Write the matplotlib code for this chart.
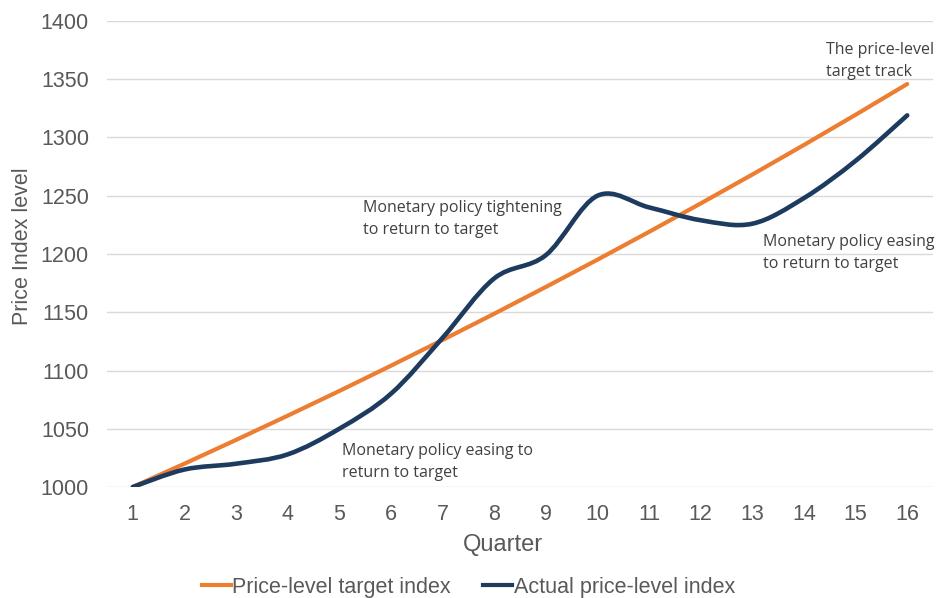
import numpy as np
import matplotlib.pyplot as plt
from matplotlib.path import Path
from matplotlib.patches import PathPatch
from matplotlib.lines import Line2D

# data
quarters = list(range(1, 17))
target_index = [1000, 1020, 1040.4, 1061.2, 1082.4, 1104.1, 1126.2, 1148.7,
                1171.7, 1195.1, 1219.0, 1243.4, 1268.2, 1293.6, 1319.5, 1345.9]
actual_index = [1000, 1015, 1020, 1028, 1050, 1080, 1128, 1179,
                1199, 1250, 1240, 1229, 1226, 1248, 1280, 1319]

orange = '#ED7D31'
navy = '#1d3b5e'
grey = '#595959'
note_col = '#404040'

plt.rcParams['font.family'] = ['Liberation Sans', 'DejaVu Sans']


def smooth_path(xs, ys):
    # Excel-like smoothed line: cubic bezier through every point
    pts = np.column_stack([xs, ys]).astype(float)
    n = len(pts)
    verts = [pts[0]]
    codes = [Path.MOVETO]
    for i in range(n - 1):
        p0 = pts[max(i - 1, 0)]
        p1 = pts[i]
        p2 = pts[i + 1]
        p3 = pts[min(i + 2, n - 1)]
        c1 = p1 + (p2 - p0) / 6.0
        c2 = p2 - (p3 - p1) / 6.0
        verts += [c1, c2, p2]
        codes += [Path.CURVE4] * 3
    return Path(verts, codes)


fig = plt.figure(figsize=(9.38, 5.98), dpi=100)
ax = fig.add_axes([0.114, 0.1856, 0.8807, 0.7793])

ax.plot(quarters, target_index, color=orange, lw=3, solid_capstyle='round', zorder=3)
ax.add_patch(PathPatch(smooth_path(quarters, actual_index), facecolor='none',
                       edgecolor=navy, lw=3.3, capstyle='round', zorder=4))

ax.set_xlim(0.5, 16.5)
ax.set_ylim(1000, 1400)
ax.set_xticks(quarters)
ax.set_yticks(range(1000, 1401, 50))
ax.grid(axis='y', color='#d9d9d9', lw=1)
ax.set_axisbelow(True)
for s in ax.spines.values():
    s.set_visible(False)
ax.tick_params(length=0, labelsize=15.5, labelcolor=grey)
ax.tick_params(axis='x', pad=12)
ax.tick_params(axis='y', pad=13)

ax.set_xlabel('Quarter', fontsize=17, color=grey)
ax.xaxis.set_label_coords(0.479, -0.1)
ax.set_ylabel('Price Index level', fontsize=15.5, color=grey)
ax.yaxis.set_label_coords(-0.09, 0.517)

notes = [
    (5.46, 1246, 'Monetary policy tightening\nto return to target'),
    (13.21, 1217, 'Monetary policy easing\nto return to target'),
    (14.43, 1382, 'The price-level\ntarget track'),
    (5.05, 1038, 'Monetary policy easing to\nreturn to target'),
]
for x, y, txt in notes:
    ax.text(x, y, txt, fontsize=11.5, color=note_col, va='top', ha='left',
            family=['Open Sans', 'DejaVu Sans'], linespacing=1.5)

handles = [Line2D([], [], color=orange, lw=3),
           Line2D([], [], color=navy, lw=3)]
fig.legend(handles, ['Price-level target index', 'Actual price-level index'],
           loc='center', bbox_to_anchor=(0.4995, 0.018), ncol=2, frameon=False,
           fontsize=15.5, labelcolor=grey, handlelength=1.35, handletextpad=0.05,
           columnspacing=1.5)

fig.savefig('out.png', dpi=100)
